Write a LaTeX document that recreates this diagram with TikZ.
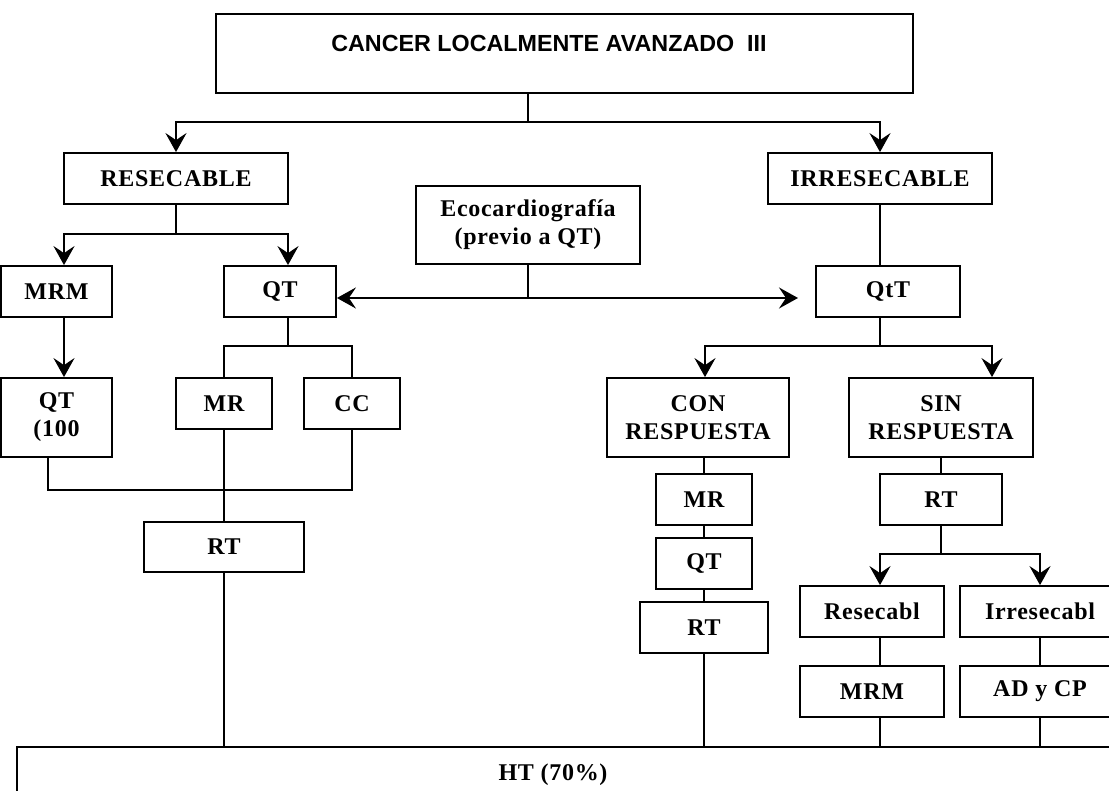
\documentclass[tikz,border=0pt]{standalone}
\usepackage{fontspec}
\setmainfont{Liberation Serif}[LetterSpace=3]
\newfontfamily\headfont{Liberation Sans}
\usetikzlibrary{arrows.meta,calc}

\tikzset{
  box/.style={draw, line width=1.8pt, inner sep=0pt, align=center,
    font=\bfseries\fontsize{24}{28}\selectfont},
  txt/.style={inner sep=0pt, align=center, font=\bfseries\fontsize{24}{28}\selectfont},
  conn/.style={line width=1.8pt},
  arr/.style={line width=1.8pt, -{Stealth[length=19pt,width=21pt,inset=7pt]}},
}

\begin{document}
\begin{tikzpicture}[x=1pt,y=-1pt]
\useasboundingbox (0,0) rectangle (1109,791);
\fill[white] (0,0) rectangle (1109,791);
\clip (0,0) rectangle (1109,791);

% --- boxes ---
\node[box, anchor=north west, minimum width=697pt, minimum height=79pt] (top) at (215,13) {};
\node[inner sep=0pt, font=\headfont\bfseries\fontsize{23.3}{27}\selectfont] (toptext) at (549,43) {CANCER LOCALMENTE AVANZADO\ \ III};

\node[box, minimum width=224pt, minimum height=51pt] (res) at (176,178.5) {RESECABLE};
\node[box, minimum width=224pt, minimum height=51pt] (irr) at (880,178.5) {IRRESECABLE};
\node[box, minimum width=224pt, minimum height=78pt] (eco) at (528,225) {Ecocardiografía\\(previo a QT)};

\node[box, minimum width=111pt, minimum height=51pt] (mrm) at (56.5,291.5) {MRM};
\node[box, minimum width=112pt, minimum height=51pt] (qt) at (280,291.5) {QT};
\node[box, minimum width=144pt, minimum height=51pt] (qtt) at (888,291.5) {QtT};

\node[box, minimum width=111pt, minimum height=79pt] (qt100) at (56.5,417.5) {QT\\(100};
\node[box, minimum width=96pt, minimum height=51pt] (mr) at (224,403.5) {MR};
\node[box, minimum width=96pt, minimum height=51pt] (cc) at (352,403.5) {CC};
\node[box, minimum width=160pt, minimum height=50pt] (rt1) at (224,547) {RT};

\node[box, minimum width=182pt, minimum height=79pt] (con) at (698,417.5) {CON\\RESPUESTA};
\node[box, minimum width=184pt, minimum height=79pt] (sin) at (941,417.5) {SIN\\RESPUESTA};

\node[box, minimum width=96pt, minimum height=51pt] (mr2) at (704,499.5) {MR};
\node[box, minimum width=96pt, minimum height=51pt] (qt2) at (704,563.5) {QT};
\node[box, minimum width=128pt, minimum height=51pt] (rt2) at (704,627.5) {RT};

\node[box, minimum width=122pt, minimum height=51pt] (rt3) at (941,499.5) {RT};
\node[box, minimum width=144pt, minimum height=51pt] (resec) at (872,611.5) {Resecabl};
\node[box, minimum width=160pt, minimum height=51pt] (irresec) at (1040,611.5) {Irresecabl};
\node[box, minimum width=144pt, minimum height=51pt] (mrm2) at (872,691.5) {MRM};
\node[box, minimum width=160pt, minimum height=51pt] (adcp) at (1040,691.5) {AD y CP};

\node[box, anchor=north west, minimum width=1130pt, minimum height=80pt] (ht) at (16,746) {};
\node[txt] (httext) at (553,775) {HT (70\%)};

% --- junction points ---
\coordinate (j1) at (528,122);
\coordinate (j2) at (176,234);
\coordinate (ecoj) at (528,298);
\coordinate (qtttip) at (798,298);
\coordinate (j3) at (880,346);
\coordinate (j5) at (288,346);
\coordinate (bus) at (224,490);
\coordinate (j4) at (941,554);
\coordinate (qt100out) at ($(qt100.south)+(-8.5,0)$);
\coordinate (resout) at ($(resec.south)+(8,0)$);
\coordinate (mrm2in) at ($(mrm2.north)+(8,0)$);
\coordinate (mrm2out) at ($(mrm2.south)+(8,0)$);

% --- top split ---
\draw[conn] (top.south -| j1) -- (j1);
\draw[arr] (j1) -| (res.north);
\draw[arr] (j1) -| (irr.north);

% --- resecable branch ---
\draw[conn] (res.south) -- (j2);
\draw[arr] (j2) -| ($(mrm.north)+(7.5,0)$);
\draw[arr] (j2) -| ($(qt.north)+(8,0)$);
\draw[arr] ($(mrm.south)+(7.5,0)$) -- ($(qt100.north)+(7.5,0)$);

\draw[conn] ($(qt.south)+(8,0)$) -- (j5);
\draw[conn] (mr.north) |- (j5) -| (cc.north);
\draw[conn] (qt100out) |- (bus) -| (cc.south);
\draw[conn] (mr.south) -- (rt1.north);
\draw[conn] (rt1.south) -- (rt1.south |- ht.north);

% --- echocardiography ---
\draw[conn] (eco.south) -- (ecoj);
\draw[arr] (ecoj) -- (qt.east |- ecoj);
\draw[arr] (ecoj) -- (qtttip);

% --- irresecable branch ---
\draw[conn] (irr.south) -- (irr.south |- qtt.north);
\draw[conn] (irr.south |- qtt.south) -- (j3);
\draw[arr] (j3) -| ($(con.north)+(7,0)$);
\draw[arr] (j3) -| ($(sin.north)+(51,0)$);

\draw[conn] (mr2.north |- con.south) -- (mr2.north);
\draw[conn] (mr2.south) -- (qt2.north);
\draw[conn] (qt2.south) -- (rt2.north);
\draw[conn] (rt2.south) -- (rt2.south |- ht.north);

\draw[conn] (rt3.north |- sin.south) -- (rt3.north);
\draw[conn] (rt3.south) -- (j4);
\draw[arr] (j4) -| ($(resec.north)+(8,0)$);
\draw[arr] (j4) -| (irresec.north);
\draw[conn] (resout) -- (mrm2in);
\draw[conn] (irresec.south) -- (adcp.north);
\draw[conn] (mrm2out) -- (mrm2out |- ht.north);
\draw[conn] (adcp.south) -- (adcp.south |- ht.north);
\end{tikzpicture}
\end{document}
